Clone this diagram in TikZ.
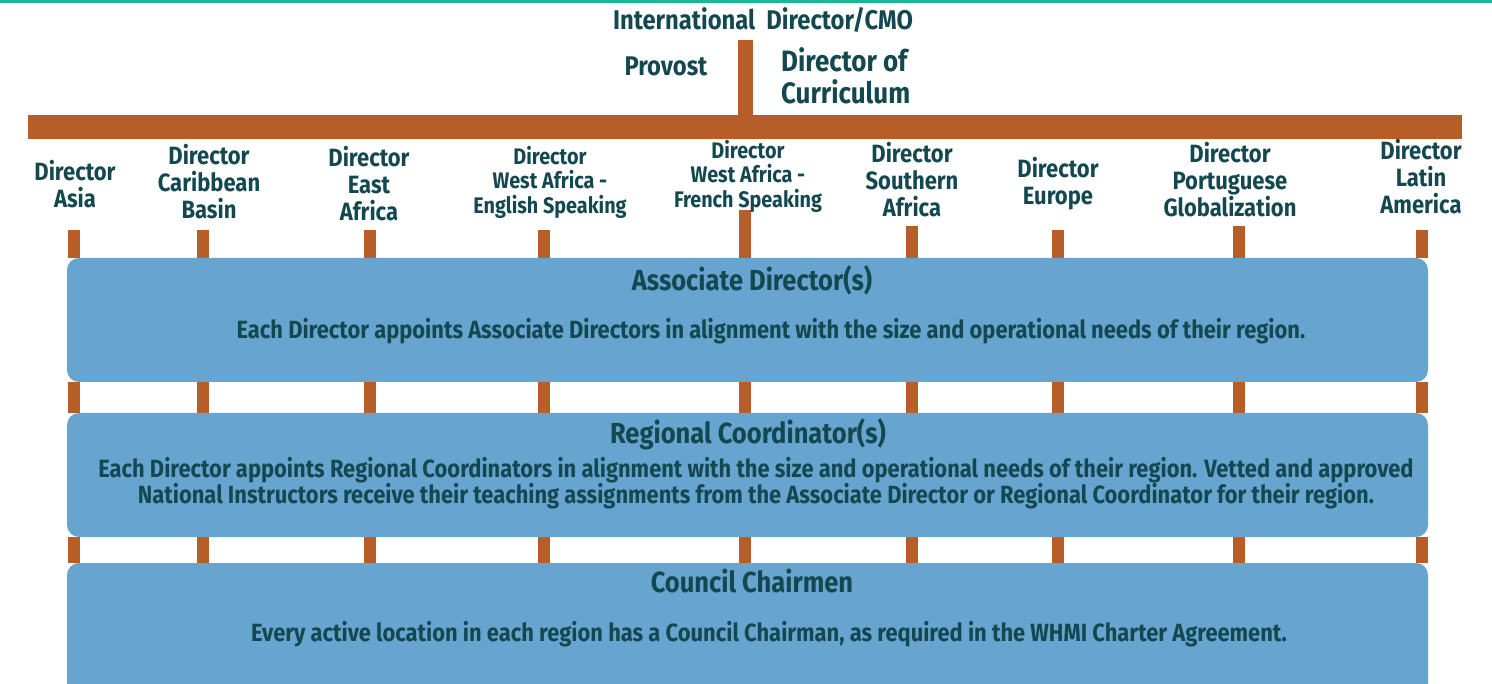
\documentclass[tikz,border=0pt]{standalone}
\usepackage{fontspec}
\setmainfont{Fira Sans}[FakeStretch=0.88]
\usetikzlibrary{backgrounds}
\definecolor{topline}{RGB}{24,184,150}
\definecolor{barc}{RGB}{183,94,40}
\definecolor{boxc}{RGB}{103,165,208}
\definecolor{txt}{RGB}{20,72,80}
\tikzset{
  lbl/.style={text=txt, font=\bfseries\fontsize{25}{27}\selectfont, align=center, inner sep=0pt},
  lblsmall/.style={text=txt, font=\bfseries\fontsize{22.5}{24.5}\selectfont, align=center, inner sep=0pt},
  toplbl/.style={text=txt, font=\bfseries\fontsize{27}{32}\selectfont, inner sep=0pt},
  boxtitle/.style={text=txt, font=\bfseries\fontsize{29}{30}\selectfont, inner sep=0pt},
  boxbody/.style={text=txt, font=\bfseries\fontsize{24.9}{26}\selectfont, align=center, inner sep=0pt},
  bluebox/.style={fill=boxc, rounded corners=12pt, minimum width=1361pt, inner sep=0pt},
  barline/.style={draw=barc, line width=24pt},
  stemline/.style={draw=barc, line width=15pt},
  stubline/.style={draw=barc, line width=12pt},
}
\begin{document}
\begin{tikzpicture}[x=1pt,y=-1pt]
\useasboundingbox (0,0) rectangle (1492,684);
\clip (0,0) rectangle (1492,684);
\fill[topline] (0,0) rectangle (1492,3.5);

% top
\node[toplbl] (intl) at (763,20) {International\ \ Director/CMO};
\node[toplbl] (provost) at (666,66) {Provost};
\node[toplbl, font=\bfseries\fontsize{29.5}{32}\selectfont, anchor=west, align=left] (curric) at (781,76) {Director of\\Curriculum};
\coordinate (stemtop) at (745,40);
\coordinate (barL) at (28,127);
\coordinate (barR) at (1462,127);
\coordinate (stembot) at (745,127);
\draw[stemline] (stemtop) -- (stembot);
\draw[barline] (barL) -- (barR);

% directors
\node[lbl] (dAsia) at (75,184) {Director\\Asia};
\node[lbl] (dCar) at (209,182) {Director\\Caribbean\\Basin};
\node[lbl] (dEast) at (369,184) {Director\\East\\Africa};
\node[lblsmall] (dEng) at (550,182) {Director\\West Africa -\\English Speaking};
\node[lblsmall] (dFr) at (748,176) {Director\\West Africa -\\French Speaking};
\node[lbl] (dSouth) at (912,180) {Director\\Southern\\Africa};
\node[lbl] (dEur) at (1058,184) {Director\\Europe};
\node[lbl] (dPor) at (1230,180) {Director\\Portuguese\\Globalization};
\node[lbl] (dLat) at (1421,177) {Director\\Latin\\America};

% boxes
\node[bluebox, minimum height=124pt] (box1) at (747.5,320) {};
\node[bluebox, minimum height=124pt] (box2) at (747.5,475) {};
\node[bluebox, minimum height=140pt] (box3) at (747.5,633) {};

\node[boxtitle] (t1) at (752,280) {Associate Director(s)};
\node[boxbody] (b1) at (771,331) {Each Director appoints Associate Directors in alignment with the size and operational needs of their region.};
\node[boxtitle] (t2) at (748,434) {Regional Coordinator(s)};
\node[boxbody] (b2) at (756,483) {Each Director appoints Regional Coordinators in alignment with the size and operational needs of their region. Vetted and approved\\National Instructors receive their teaching assignments from the Associate Director or Regional Coordinator for their region.};
\node[boxtitle] (t3) at (752,581) {Council Chairmen};
\node[boxbody] (b3) at (769,634) {Every active location in each region has a Council Chairman, as required in the WHMI Charter Agreement.};

% stubs
\begin{pgfonlayer}{background}
\foreach \d/\sx/\sy in {dAsia/74/230, dCar/203/230, dEast/370/230, dEng/544/230, dFr/745/210, dSouth/912/226, dEur/1058/230, dPor/1239/226, dLat/1422/230}{
  \coordinate (s-\d) at (\sx,\sy);
  \draw[stubline] (s-\d) -- (box1.north -| s-\d);
  \draw[stubline] (box1.south -| s-\d) -- (box2.north -| s-\d);
  \draw[stubline] (box2.south -| s-\d) -- (box3.north -| s-\d);
}
\end{pgfonlayer}
\end{tikzpicture}
\end{document}
